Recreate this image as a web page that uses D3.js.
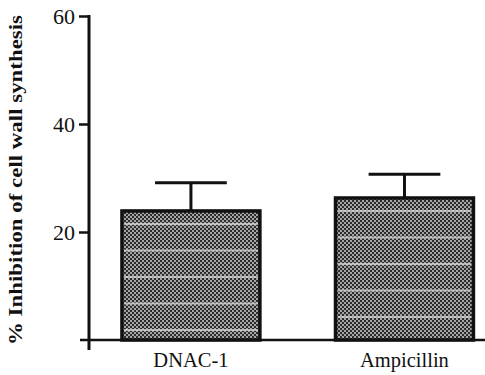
<!DOCTYPE html>
<html>
<head>
<meta charset="utf-8">
<script src="https://cdn.jsdelivr.net/npm/d3@7"></script>
<style>
  html, body { margin: 0; padding: 0; background: #fff; }
  svg { display: block; }
  text { font-family: "Liberation Serif", "Times New Roman", Times, serif; fill: #111; }
</style>
</head>
<body>
<div id="chart"></div>
<script>
const categories = ["DNAC-1", "Ampicillin"];
const means = [23.9, 26.3];
const errors = [5.2, 4.4];
const yTicks = [20, 40, 60];
const yLabel = "% Inhibition of cell wall synthesis";

const width = 485;
const height = 375;

const svg = d3.select("#chart")
  .append("svg")
  .attr("width", width)
  .attr("height", height);

const defs = svg.append("defs");
const pat = defs.append("pattern")
  .attr("id", "checker")
  .attr("patternUnits", "userSpaceOnUse")
  .attr("width", 4)
  .attr("height", 4);
pat.append("rect").attr("width", 4).attr("height", 4).attr("fill", "#a4a4a4");
pat.append("rect").attr("x", 0).attr("y", 0).attr("width", 2).attr("height", 2).attr("fill", "#2c2c2c");
pat.append("rect").attr("x", 2).attr("y", 2).attr("width", 2).attr("height", 2).attr("fill", "#2c2c2c");

const y = d3.scaleLinear()
  .domain([0, 60])
  .range([340, 16]);

const x = d3.scaleBand()
  .domain(categories)
  .range([100.6, 494.8])
  .paddingInner(0.354)
  .paddingOuter(0.1);

const data = categories.map((c, i) => ({ cat: c, mean: means[i], err: errors[i] }));
const axisX = 89;

// error bars (upper only)
const capHalf = x.bandwidth() * 0.26;
const eb = svg.append("g").attr("stroke", "#111").attr("stroke-width", 3);
eb.selectAll(".stem")
  .data(data)
  .join("line")
  .attr("x1", d => x(d.cat) + x.bandwidth() / 2)
  .attr("x2", d => x(d.cat) + x.bandwidth() / 2)
  .attr("y1", d => y(d.mean))
  .attr("y2", d => y(d.mean + d.err));
eb.selectAll(".cap")
  .data(data)
  .join("line")
  .attr("x1", d => x(d.cat) + x.bandwidth() / 2 - capHalf)
  .attr("x2", d => x(d.cat) + x.bandwidth() / 2 + capHalf)
  .attr("y1", d => y(d.mean + d.err))
  .attr("y2", d => y(d.mean + d.err));

// bars
svg.selectAll(".bar")
  .data(data)
  .join("rect")
  .attr("class", "bar")
  .attr("x", d => x(d.cat))
  .attr("y", d => y(d.mean))
  .attr("width", x.bandwidth())
  .attr("height", d => y(0) - y(d.mean))
  .attr("fill", "url(#checker)");

// light horizontal stripes in the texture
data.forEach(d => {
  const top = y(d.mean);
  const stripes = d3.range(top + 13, y(0) - 4, 26.5);
  svg.append("g")
    .selectAll("line")
    .data(stripes)
    .join("line")
    .attr("x1", x(d.cat) + 2)
    .attr("x2", x(d.cat) + x.bandwidth() - 2)
    .attr("y1", s => s)
    .attr("y2", s => s)
    .attr("stroke", "#d8d8d8")
    .attr("stroke-width", 2)
    .attr("opacity", 0.75);
});

svg.selectAll(".bar-outline")
  .data(data)
  .join("rect")
  .attr("x", d => x(d.cat))
  .attr("y", d => y(d.mean))
  .attr("width", x.bandwidth())
  .attr("height", d => y(0) - y(d.mean))
  .attr("fill", "none")
  .attr("stroke", "#111")
  .attr("stroke-width", 3.5);

// y axis
const yAxis = svg.append("g")
  .attr("transform", `translate(${axisX},0)`)
  .call(d3.axisLeft(y).tickValues(yTicks).tickSize(10).tickPadding(4));
yAxis.select(".domain").remove();
yAxis.selectAll(".tick line").attr("stroke", "#111").attr("stroke-width", 2.5);
yAxis.selectAll(".tick text")
  .attr("font-size", 22)
  .attr("fill", "#111");

svg.append("line")
  .attr("x1", axisX).attr("x2", axisX)
  .attr("y1", y(60) - 1).attr("y2", 350)
  .attr("stroke", "#111").attr("stroke-width", 3);

// x axis
svg.append("line")
  .attr("x1", 80).attr("x2", width)
  .attr("y1", y(0)).attr("y2", y(0))
  .attr("stroke", "#111").attr("stroke-width", 2.5);

svg.selectAll(".cat-label")
  .data(categories)
  .join("text")
  .attr("x", d => x(d) + x.bandwidth() / 2)
  .attr("y", 367)
  .attr("text-anchor", "middle")
  .attr("font-size", 20.5)
  .text(d => d);

svg.append("text")
  .attr("transform", `translate(22,${(15 + 345) / 2}) rotate(-90)`)
  .attr("text-anchor", "middle")
  .attr("font-size", 19)
  .attr("font-weight", "bold")
  .attr("textLength", 330)
  .attr("lengthAdjust", "spacingAndGlyphs")
  .text(yLabel);
</script>
</body>
</html>
